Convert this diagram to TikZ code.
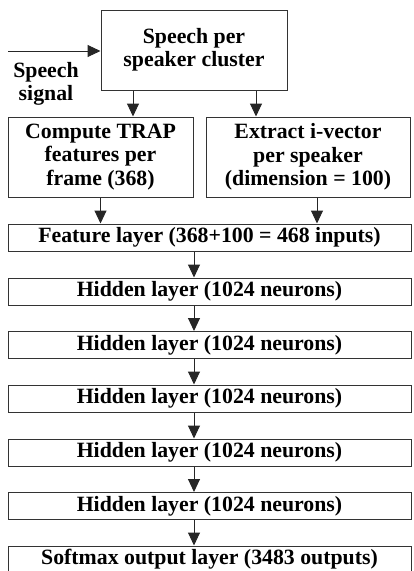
\documentclass[tikz,border=0pt]{standalone}
\usepackage{fontspec}
\setmainfont{Liberation Serif}
\usepackage{tikz}
\usetikzlibrary{arrows.meta}
\usetikzlibrary{positioning}

\tikzset{
  blk/.style={draw=black!80,line width=1pt,inner sep=0pt,align=center,
    font=\fontsize{21.8}{23.5}\selectfont\bfseries},
  layer/.style={blk,minimum width=403pt,minimum height=27pt},
  flow/.style={->,draw=black!85,line width=1pt}
}

\begin{document}
\begin{tikzpicture}[x=1pt,y=-1pt,>={Triangle[length=13pt,width=12pt]}]
\useasboundingbox (0,0) rectangle (413,571);
%Top: clustering and feature extraction

    \node[blk,minimum width=186pt,minimum height=80pt] (cluster) at (194,50) {Speech per\\speaker cluster};
    \node[blk,minimum width=185pt,minimum height=80pt] (trap) at (100.5,157) {Compute TRAP\\features per\\frame (368)};
    \node[blk,minimum width=204pt,minimum height=80pt] (ivec) at (308,157) {Extract i-vector\\per speaker\\(dimension = 100)};
    \coordinate (sig) at (8,51);
    \node[font=\fontsize{21.8}{23.5}\selectfont\bfseries,align=center] (siglabel) at (46,84) {Speech\\signal};
    \draw [flow](sig) -- (sig -| cluster.west);
    \draw [flow]([xshift=-61pt]cluster.south) -- ([xshift=-61pt]cluster.south |- trap.north);
    \draw [flow]([xshift=62pt]cluster.south) -- ([xshift=62pt]cluster.south |- ivec.north);

%Network layers
    \node[layer] (feat) at (209.5,237.5) {Feature layer (368+100 = 468 inputs)};
    \node[layer] (h1) at (209.5,291.5) {Hidden layer (1024 neurons)};
    \node[layer] (h2) at (209.5,345) {Hidden layer (1024 neurons)};
    \node[layer] (h3) at (209.5,398.5) {Hidden layer (1024 neurons)};
    \node[layer] (h4) at (209.5,452.5) {Hidden layer (1024 neurons)};
    \node[layer] (h5) at (209.5,506) {Hidden layer (1024 neurons)};
    \node[layer] (soft) at (209.5,559.5) {Softmax output layer (3483 outputs)};
    \draw [flow](trap.south) -- (trap.south |- feat.north);
    \draw [flow]([xshift=9pt]ivec.south) -- ([xshift=9pt]ivec.south |- feat.north);
    \draw [flow](feat.south -| cluster) -- (h1.north -| cluster);
    \draw [flow](h1.south -| cluster) -- (h2.north -| cluster);
    \draw [flow](h2.south -| cluster) -- (h3.north -| cluster);
    \draw [flow](h3.south -| cluster) -- (h4.north -| cluster);
    \draw [flow](h4.south -| cluster) -- (h5.north -| cluster);
    \draw [flow](h5.south -| cluster) -- (soft.north -| cluster);
\end{tikzpicture}
\end{document}
